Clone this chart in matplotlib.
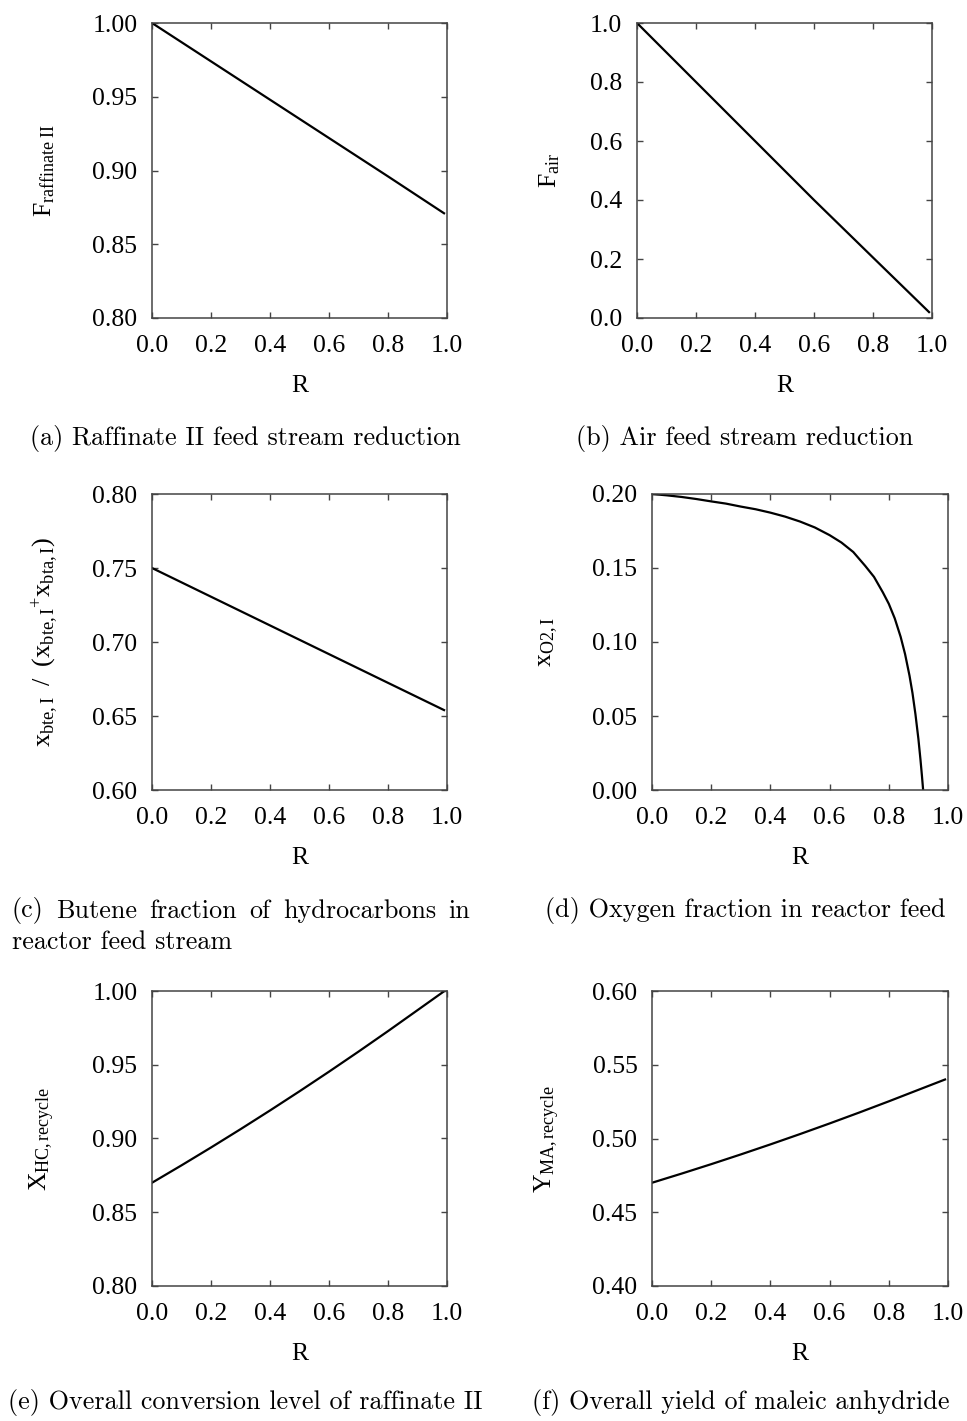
import numpy as np
import matplotlib
matplotlib.use("Agg")
import matplotlib.pyplot as plt

# ---- data --------------------------------------------------------------
R_lin = [0.0, 0.2, 0.4, 0.6, 0.8, 0.99]
F_raffinate = [1.000, 0.974, 0.948, 0.922, 0.896, 0.871]
F_air = [1.00, 0.80, 0.60, 0.40, 0.205, 0.02]
butene_frac = [0.7500, 0.7306, 0.7112, 0.6918, 0.6724, 0.6540]

R_o2 = [0.0, 0.05, 0.1, 0.15, 0.2, 0.25, 0.3, 0.35, 0.4, 0.45, 0.5, 0.55,
        0.6, 0.64, 0.68, 0.72, 0.75, 0.78, 0.8, 0.82, 0.84, 0.855, 0.87,
        0.88, 0.89, 0.9, 0.907, 0.912, 0.916]
x_o2 = [0.2000, 0.1991, 0.1980, 0.1966, 0.1950, 0.1935, 0.1915, 0.1897,
        0.1874, 0.1847, 0.1814, 0.1774, 0.1722, 0.1672, 0.1608, 0.1515,
        0.1440, 0.1335, 0.1258, 0.1160, 0.1035, 0.0918, 0.0772, 0.0655,
        0.0512, 0.0345, 0.0205, 0.0095, 0.0]

R_rec = [0.0, 0.1, 0.2, 0.3, 0.4, 0.5, 0.6, 0.7, 0.8, 0.9, 0.99]
X_hc = [0.8700, 0.8818, 0.8939, 0.9063, 0.9190, 0.9320, 0.9453, 0.9589,
        0.9728, 0.9870, 0.9998]
Y_ma = [0.4700, 0.4762, 0.4826, 0.4892, 0.4960, 0.5030, 0.5102, 0.5176,
        0.5252, 0.5330, 0.5400]

x_ticks = [0.0, 0.2, 0.4, 0.6, 0.8, 1.0]

panels = [
    dict(x=R_lin, y=F_raffinate, ylim=(0.80, 1.00), yticks=[0.80, 0.85, 0.90, 0.95, 1.00],
         fmt="{:.2f}", ylabel=r"$\mathrm{F_{raffinate\ II}}$", ysize=18.5,
         caption=["(a) Raffinate II feed stream reduction"]),
    dict(x=R_lin, y=F_air, ylim=(0.0, 1.0), yticks=[0.0, 0.2, 0.4, 0.6, 0.8, 1.0],
         fmt="{:.1f}", ylabel=r"$\mathrm{F_{air}}$", ysize=18.5,
         caption=["(b) Air feed stream reduction"]),
    dict(x=R_lin, y=butene_frac, ylim=(0.60, 0.80), yticks=[0.60, 0.65, 0.70, 0.75, 0.80],
         fmt="{:.2f}",
         ylabel=r"$\mathrm{x_{bte,I}\;\ /\;\ (x_{bte,I}{}^{+}x_{bta,I})}$", ysize=19,
         caption=["(c) Butene fraction of hydrocarbons in", "reactor feed stream"]),
    dict(x=R_o2, y=x_o2, ylim=(0.0, 0.20), yticks=[0.00, 0.05, 0.10, 0.15, 0.20],
         fmt="{:.2f}", ylabel=r"$\mathrm{x_{O2,I}}$", ysize=18.5,
         caption=["(d) Oxygen fraction in reactor feed"]),
    dict(x=R_rec, y=X_hc, ylim=(0.80, 1.00), yticks=[0.80, 0.85, 0.90, 0.95, 1.00],
         fmt="{:.2f}", ylabel=r"$\mathrm{X_{HC,recycle}}$", ysize=18.5,
         caption=["(e) Overall conversion level of raffinate II"]),
    dict(x=R_rec, y=Y_ma, ylim=(0.40, 0.60), yticks=[0.40, 0.45, 0.50, 0.55, 0.60],
         fmt="{:.2f}", ylabel=r"$\mathrm{Y_{MA,recycle}}$", ysize=18.5,
         caption=["(f) Overall yield of maleic anhydride"]),
]

# ---- layout (pixels) ---------------------------------------------------
W, H = 967, 1421
boxes = [  # left, right, top, bottom
    (152, 447, 23, 318),
    (637, 932, 23, 318),
    (152, 447, 494, 790),
    (652, 948, 494, 790),
    (152, 447, 991, 1286),
    (652, 948, 991, 1286),
]
ylabel_x = [57, 562, 60, 560, 57, 562]        # right edge of rotated label
caption_y = [[438], [438], [911, 942], [910], [1402], [1402]]
caption_cx = [245, 745, 241, 745, 245, 741]

plt.rcParams["mathtext.fontset"] = "custom"
plt.rcParams["mathtext.rm"] = "Liberation Serif"
plt.rcParams["mathtext.it"] = "Liberation Serif:italic"

fig = plt.figure(figsize=(W / 100, H / 100), dpi=100)
fig.patch.set_facecolor("white")

tick_font = dict(family="Liberation Serif", size=18.5)
cap_font = dict(family="cmr10", size=18.8)
spine_col = "#444444"

axes = []
for p, (l, r, t, b) in zip(panels, boxes):
    ax = fig.add_axes([l / W, 1 - b / H, (r - l) / W, (b - t) / H])
    ax.plot(p["x"], p["y"], color="black", lw=1.6, solid_joinstyle="round")
    ax.set_xlim(0, 1)
    ax.set_ylim(*p["ylim"])
    ax.set_xticks(x_ticks)
    ax.set_xticklabels([f"{v:.1f}" for v in x_ticks], **tick_font)
    ax.set_yticks(p["yticks"])
    ax.set_yticklabels([p["fmt"].format(v) for v in p["yticks"]], **tick_font)
    ax.tick_params(direction="in", length=4.5, width=1.0, color=spine_col,
                   top=True, right=True)
    ax.tick_params(axis="x", pad=12.5)
    ax.tick_params(axis="y", pad=10.5)
    for s in ax.spines.values():
        s.set_color(spine_col)
        s.set_linewidth(1.1)
    ax.set_xlabel("R", fontdict=tick_font, labelpad=12.5)
    axes.append(ax)

# y-axis labels placed in pixel coordinates
for ax, p, lx, (l, r, t, b) in zip(axes, panels, ylabel_x, boxes):
    ax.set_ylabel(p["ylabel"], fontsize=p["ysize"])
    ax.yaxis.set_label_coords((lx - l) / (r - l), 0.5)

# sub-figure captions
fig.canvas.draw()
renderer = fig.canvas.get_renderer()
for p, ys, cx in zip(panels, caption_y, caption_cx):
    lines = p["caption"]
    if len(lines) == 1:
        fig.text(cx / W, 1 - ys[0] / H, lines[0], ha="center", va="center", **cap_font)
    else:
        # justified first line, left-aligned last line
        x0, x1 = 12, 470
        words = lines[0].split(" ")
        widths = []
        for w in words:
            tt = fig.text(0, 0, w, **cap_font)
            widths.append(tt.get_window_extent(renderer).width)
            tt.remove()
        gap = (x1 - x0 - sum(widths)) / (len(words) - 1)
        xpos = x0
        for w, wd in zip(words, widths):
            fig.text(xpos / W, 1 - ys[0] / H, w, ha="left", va="center", **cap_font)
            xpos += wd + gap
        fig.text(x0 / W, 1 - ys[1] / H, lines[1], ha="left", va="center", **cap_font)

fig.savefig("out.png", dpi=100, facecolor="white")
